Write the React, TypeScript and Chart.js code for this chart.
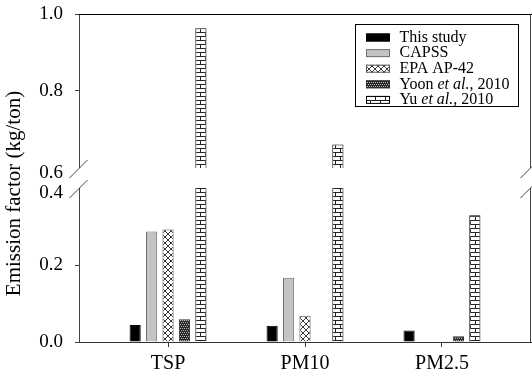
import React, { useEffect, useRef } from 'react';
import { Chart, registerables, LinearScale } from 'chart.js';

Chart.register(...registerables);

// ---------- data ----------
const categories = ['TSP', 'PM10', 'PM2.5'];
const seriesLabels = ['This study', 'CAPSS', 'EPA AP-42', 'Yoon et al., 2010', 'Yu et al., 2010'];
const thisStudy = [0.044, 0.042, 0.030];
const capss = [0.287, 0.167, null];
const epaAp42 = [0.292, 0.068, null];
const yoon2010 = [0.059, null, 0.015];
const yu2010 = [0.963, 0.661, 0.329];
const yTickValues = [0, 0.2, 0.4, 0.6, 0.8, 1.0];
const breakLow = 0.4;
const breakHigh = 0.6;

const FONT = '"Liberation Serif", "Times New Roman", serif';

// ---------- broken linear scale ----------
class BrokenLinearScale extends LinearScale {
  static id = 'brokenLinear';
  static defaults = LinearScale.defaults;

  getPixelForValue(value: any) {
    if (value === null || value === undefined || isNaN(value)) return NaN;
    const gap = 20;
    const seg = (this.bottom - this.top - gap) / 2;
    const lo = this.min;
    const hi = this.max;
    if (value <= breakLow) return this.bottom - ((value - lo) / (breakLow - lo)) * seg;
    if (value >= breakHigh) return this.top + ((hi - value) / (hi - breakHigh)) * seg;
    return this.bottom - seg - ((value - breakLow) / (breakHigh - breakLow)) * gap;
  }

  getValueForPixel(pixel: number) {
    const gap = 20;
    const seg = (this.bottom - this.top - gap) / 2;
    const lo = this.min;
    const hi = this.max;
    if (pixel >= this.bottom - seg) return lo + ((this.bottom - pixel) / seg) * (breakLow - lo);
    if (pixel <= this.top + seg) return hi - ((pixel - this.top) / seg) * (hi - breakHigh);
    return breakLow + ((this.bottom - seg - pixel) / gap) * (breakHigh - breakLow);
  }

  getPixelForTick(index: number) {
    const t = (this as any).ticks[index];
    if (!t) return null as any;
    let p = this.getPixelForValue(t.value);
    if (t.value === breakHigh || t.value === breakLow) p += 5;
    return p;
  }
}
Chart.register(BrokenLinearScale as any);

// ---------- patterns ----------
function makePattern(w: number, h: number, draw: (c: CanvasRenderingContext2D) => void) {
  const c = document.createElement('canvas');
  c.width = w;
  c.height = h;
  const ctx = c.getContext('2d')!;
  draw(ctx);
  return ctx.createPattern(c, 'repeat')!;
}

function buildPatterns() {
  const cross = makePattern(6, 6, (c) => {
    c.fillStyle = '#fff';
    c.fillRect(0, 0, 6, 6);
    c.strokeStyle = '#222';
    c.lineWidth = 0.9;
    c.beginPath();
    c.moveTo(0, 0);
    c.lineTo(6, 6);
    c.moveTo(6, 0);
    c.lineTo(0, 6);
    c.stroke();
  });
  const dense = makePattern(4, 4, (c) => {
    c.fillStyle = '#262626';
    c.fillRect(0, 0, 4, 4);
    c.fillStyle = '#b8b8b8';
    c.fillRect(0, 0, 1, 1);
    c.fillRect(2, 0, 1, 1);
    c.fillRect(1, 2, 1, 1);
    c.fillRect(3, 2, 1, 1);
  });
  const brick = makePattern(10, 8, (c) => {
    c.fillStyle = '#fff';
    c.fillRect(0, 0, 10, 8);
    c.fillStyle = '#222';
    c.fillRect(0, 0, 10, 1);
    c.fillRect(0, 4, 10, 1);
    c.fillRect(5, 0, 1, 4);
    c.fillRect(0, 4, 1, 4);
  });
  return { cross, dense, brick };
}

// ---------- decoration plugin (breaks, frame, title, legend) ----------
const decorPlugin = {
  id: 'decor',
  afterDraw(chart: any) {
    const ctx: CanvasRenderingContext2D = chart.ctx;
    const { left, right, top, bottom } = chart.chartArea;
    const ys = chart.scales.y;
    const gTop = ys.getPixelForValue(breakHigh);
    const gBot = ys.getPixelForValue(breakLow);
    ctx.save();

    // break band
    ctx.fillStyle = '#fff';
    ctx.fillRect(left - 2, gTop, right - left + 6, gBot - gTop);

    // frame: top and right
    ctx.strokeStyle = '#000';
    ctx.lineWidth = 1;
    ctx.beginPath();
    ctx.moveTo(left, top + 0.5);
    ctx.lineTo(right + 1, top + 0.5);
    ctx.stroke();
    ctx.strokeStyle = '#444';
    ctx.beginPath();
    ctx.moveTo(right - 0.5, top);
    ctx.lineTo(right - 0.5, gTop);
    ctx.moveTo(right - 0.5, gBot);
    ctx.lineTo(right - 0.5, bottom);
    ctx.stroke();

    // break slashes
    ctx.strokeStyle = '#444';
    ctx.beginPath();
    for (const y0 of [gTop, gBot]) {
      for (const x0 of [left + 0.5, right - 0.5]) {
        ctx.moveTo(x0 - 10, y0 + 10);
        ctx.lineTo(x0 + 8, y0 - 8);
      }
    }
    ctx.stroke();

    // y title
    ctx.save();
    ctx.translate(left - 65, (top + bottom) / 2 + 15.5);
    ctx.rotate(-Math.PI / 2);
    ctx.fillStyle = '#000';
    ctx.textAlign = 'center';
    ctx.textBaseline = 'middle';
    ctx.font = `21px ${FONT}`;
    ctx.fillText('Emission factor (kg/ton)', 0, 0);
    ctx.restore();

    // legend
    const bx = right - 175.5;
    const by = top + 10.5;
    const bw = 163;
    const bh = 82;
    ctx.fillStyle = '#fff';
    ctx.fillRect(bx, by, bw, bh);
    ctx.strokeStyle = '#000';
    ctx.lineWidth = 1;
    ctx.strokeRect(bx, by, bw, bh);
    const ds = chart.data.datasets;
    ds.forEach((d: any, i: number) => {
      const cy = by + 13 + i * 15.6;
      const sx = bx + 10.5;
      ctx.fillStyle = d.backgroundColor;
      ctx.fillRect(sx, cy - 4, 24, 8);
      ctx.strokeStyle = d.borderColor;
      ctx.strokeRect(sx + 0.5, cy - 3.5, 23, 7);
      let tx = bx + 44;
      ctx.fillStyle = '#000';
      ctx.textBaseline = 'middle';
      ctx.textAlign = 'left';
      const parts = String(d.label).split(/(et al\.)/);
      for (const p of parts) {
        if (!p) continue;
        ctx.font = (p === 'et al.' ? 'italic ' : '') + `16px ${FONT}`;
        ctx.fillText(p, tx, cy);
        tx += ctx.measureText(p).width;
      }
    });

    ctx.restore();
  },
};

export default function App() {
  const ref = useRef<HTMLCanvasElement>(null);

  useEffect(() => {
    if (!ref.current) return;
    const pats = buildPatterns();
    const toPts = (arr: (number | null)[]) => arr.map((v, i) => ({ x: i, y: v }));
    const chart = new Chart(ref.current, {
      type: 'bar',
      data: {
        datasets: [
          { label: seriesLabels[0], data: toPts(thisStudy), backgroundColor: '#000', borderColor: '#000', borderWidth: 1 },
          { label: seriesLabels[1], data: toPts(capss), backgroundColor: '#c4c4c4', borderColor: '#707070', borderWidth: 1 },
          { label: seriesLabels[2], data: toPts(epaAp42), backgroundColor: pats.cross, borderColor: '#555', borderWidth: 1 },
          { label: seriesLabels[3], data: toPts(yoon2010), backgroundColor: pats.dense, borderColor: '#333', borderWidth: 1 },
          { label: seriesLabels[4], data: toPts(yu2010), backgroundColor: pats.brick, borderColor: '#000', borderWidth: 1 },
        ] as any,
      },
      options: {
        animation: false,
        responsive: false,
        maintainAspectRatio: false,
        layout: { padding: { top: 14, right: 1, left: 0, bottom: 0 } },
        datasets: { bar: { categoryPercentage: 0.6, barPercentage: 0.68 } } as any,
        plugins: { legend: { display: false }, tooltip: { enabled: false } },
        scales: {
          x: {
            type: 'linear',
            min: -0.65,
            max: 2.65,
            offset: false,
            afterBuildTicks: (s: any) => {
              s.ticks = categories.map((_, i) => ({ value: i }));
            },
            afterFit: (s: any) => {
              s.height = 30;
              s.paddingLeft = 0;
              s.paddingRight = 0;
            },
            ticks: {
              callback: (_v: any, i: number) => categories[i],
              color: '#000',
              font: { family: FONT, size: 20 },
              padding: 5,
              autoSkip: false,
              maxRotation: 0,
            },
            grid: { drawOnChartArea: false, drawTicks: true, tickLength: 5, color: '#333', offset: false },
            border: { color: '#333', width: 1 },
          },
          y: {
            type: 'brokenLinear' as any,
            min: 0,
            max: 1,
            afterBuildTicks: (s: any) => {
              s.ticks = yTickValues.map((v) => ({ value: v }));
            },
            afterFit: (s: any) => {
              s.width = 79;
              s.paddingTop = 0;
              s.paddingBottom = 0;
            },
            ticks: {
              callback: (v: any) => Number(v).toFixed(1),
              color: '#000',
              font: { family: FONT, size: 19 },
              padding: 12,
            },
            grid: {
              drawOnChartArea: false,
              drawTicks: true,
              tickLength: 4,
              tickColor: (c: any) =>
                c.tick && (c.tick.value === breakHigh || c.tick.value === breakLow) ? 'rgba(0,0,0,0)' : '#444',
            },
            border: { color: '#444', width: 1 },
          } as any,
        },
      },
      plugins: [decorPlugin],
    });
    return () => chart.destroy();
  }, []);

  return (
    <div style={{ position: 'absolute', left: 0, top: 0, width: 532, height: 372, background: '#fff' }}>
      <canvas ref={ref} width={532} height={372} style={{ display: 'block' }} />
    </div>
  );
}
